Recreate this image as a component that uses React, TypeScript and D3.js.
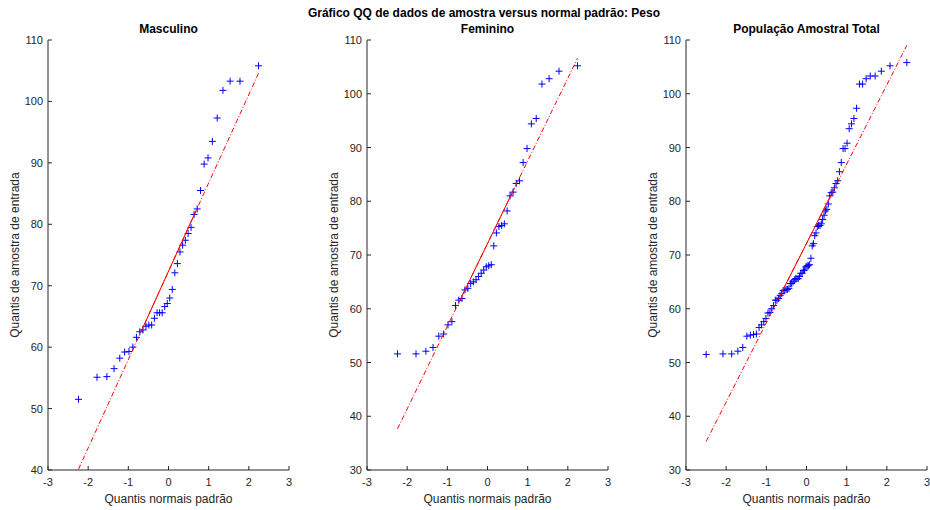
import React from "react";
import * as d3 from "d3";

// ---------- data ----------
const panelTitles = ["Masculino", "Feminino", "População Amostral Total"];
const mainTitle = "Gráfico QQ de dados de amostra versus normal padrão: Peso";
const xLabel = "Quantis normais padrão";
const yLabel = "Quantis de amostra de entrada";

const xTicks = [-3, -2, -1, 0, 1, 2, 3];
const yTicksMale = [40, 50, 60, 70, 80, 90, 100, 110];
const yTicksOther = [30, 40, 50, 60, 70, 80, 90, 100, 110];

// theoretical standard-normal quantiles on the x axis (n = 40 and n = 80)
const quantis40 = [
  -2.241, -1.78, -1.534, -1.356, -1.213, -1.092, -0.984, -0.887, -0.798, -0.714,
  -0.636, -0.561, -0.489, -0.419, -0.352, -0.285, -0.221, -0.157, -0.094, -0.031,
  0.031, 0.094, 0.157, 0.221, 0.285, 0.352, 0.419, 0.489, 0.561, 0.636,
  0.714, 0.798, 0.887, 0.984, 1.092, 1.213, 1.356, 1.534, 1.78, 2.241,
];
const quantis80 = [
  -2.498, -2.08, -1.863, -1.709, -1.587, -1.485, -1.397, -1.318, -1.247, -1.181,
  -1.12, -1.063, -1.01, -0.959, -0.911, -0.865, -0.82, -0.776, -0.735, -0.694,
  -0.655, -0.616, -0.579, -0.543, -0.507, -0.471, -0.437, -0.402, -0.369, -0.335,
  -0.302, -0.269, -0.237, -0.205, -0.173, -0.142, -0.11, -0.078, -0.047, -0.016,
  0.016, 0.047, 0.078, 0.11, 0.142, 0.173, 0.205, 0.237, 0.269, 0.302,
  0.335, 0.369, 0.402, 0.437, 0.471, 0.507, 0.543, 0.579, 0.616, 0.655,
  0.694, 0.735, 0.776, 0.82, 0.865, 0.911, 0.959, 1.01, 1.063, 1.12,
  1.181, 1.247, 1.318, 1.397, 1.485, 1.587, 1.709, 1.863, 2.08, 2.498,
];

// sorted sample values (Peso)
const pesoMasculino = [
  51.5, 55.1, 55.2, 56.5, 58.2, 59.2, 59.3, 60.0, 61.6, 62.5,
  62.8, 63.4, 63.6, 63.6, 64.7, 65.6, 65.6, 65.6, 66.6, 67.1,
  68.0, 69.4, 72.1, 73.6, 75.5, 76.6, 77.4, 78.5, 79.5, 81.6,
  82.5, 85.5, 89.8, 90.8, 93.5, 97.3, 101.8, 103.3, 103.3, 105.8,
];
const pesoFeminino = [
  51.6, 51.6, 52.1, 52.8, 54.9, 55.3, 57.0, 57.6, 60.6, 61.6,
  61.9, 63.5, 63.8, 64.7, 65.0, 65.4, 66.0, 66.6, 67.2, 67.8,
  68.0, 68.2, 71.7, 74.1, 75.3, 75.5, 75.8, 78.2, 81.0, 81.7,
  83.3, 83.8, 87.2, 89.8, 94.4, 95.4, 101.8, 102.8, 104.2, 105.2,
];
const pesoTotal = [
  51.5, 51.6, 51.6, 52.1, 52.8, 54.9, 55.1, 55.2, 55.3, 56.5,
  57.0, 57.6, 58.2, 59.2, 59.3, 60.0, 60.6, 61.6, 61.6, 61.9,
  62.5, 62.8, 63.4, 63.5, 63.6, 63.6, 63.8, 64.7, 64.7, 65.0,
  65.4, 65.6, 65.6, 65.6, 66.0, 66.6, 66.6, 67.1, 67.2, 67.8,
  68.0, 68.0, 68.2, 69.4, 71.7, 72.1, 73.6, 74.1, 75.3, 75.5,
  75.5, 75.8, 76.6, 77.4, 78.2, 78.5, 79.5, 81.0, 81.6, 81.7,
  82.5, 83.3, 83.8, 85.5, 87.2, 89.8, 89.8, 90.8, 93.5, 94.4,
  95.4, 97.3, 101.8, 101.8, 102.8, 103.3, 103.3, 104.2, 105.2, 105.8,
];

const panelX = [quantis40, quantis40, quantis80];
const panelY = [pesoMasculino, pesoFeminino, pesoTotal];
const panelYDomain: [number, number][] = [[40, 110], [30, 110], [30, 110]];
const panelYTicks = [yTicksMale, yTicksOther, yTicksOther];

// ---------- layout ----------
const W = 930;
const H = 510;
const panelLefts = [48, 367, 686];
const panelW = 241;
const top = 40;
const bottom = 470;
const axisColor = "#262626";
const font = "'Liberation Sans', Arial, Helvetica, sans-serif";
const tickLen = 4;
const QX = 0.6745;

function Panel({ idx }: { idx: number }) {
  const left = panelLefts[idx];
  const xs = panelX[idx];
  const ys = panelY[idx];
  const x = d3.scaleLinear().domain([-3, 3]).range([left, left + panelW]);
  const y = d3.scaleLinear().domain(panelYDomain[idx]).range([bottom, top]);
  const n = ys.length;
  const q1y = (ys[n / 4 - 1] + ys[n / 4]) / 2;
  const q3y = (ys[(3 * n) / 4 - 1] + ys[(3 * n) / 4]) / 2;
  const slope = (q3y - q1y) / (2 * QX);
  const mid = (q1y + q3y) / 2;
  const fy = (v: number) => mid + slope * v;
  const xmin = xs[0];
  const xmax = xs[n - 1];
  const lineGen = d3
    .line<[number, number]>()
    .x((d) => x(d[0]))
    .y((d) => y(d[1]));
  const fullLine = lineGen([
    [xmin, fy(xmin)],
    [xmax, fy(xmax)],
  ]);
  const quartLine = lineGen([
    [-QX, q1y],
    [QX, q3y],
  ]);
  const ms = 3.5;
  return (
    <g>
      {/* axes */}
      <line x1={left} x2={left} y1={top} y2={bottom} stroke={axisColor} strokeWidth={1} />
      <line x1={left} x2={left + panelW} y1={bottom} y2={bottom} stroke={axisColor} strokeWidth={1} />
      {xTicks.map((t) => (
        <g key={"xt" + t}>
          <line x1={x(t)} x2={x(t)} y1={bottom} y2={bottom - tickLen} stroke={axisColor} strokeWidth={1} />
          <text x={x(t)} y={486} textAnchor="middle" fontSize={11} fill={axisColor} fontFamily={font}>
            {t}
          </text>
        </g>
      ))}
      {panelYTicks[idx].map((t) => (
        <g key={"yt" + t}>
          <line x1={left} x2={left + tickLen} y1={y(t)} y2={y(t)} stroke={axisColor} strokeWidth={1} />
          <text x={left - 5} y={y(t) + 4} textAnchor="end" fontSize={11} fill={axisColor} fontFamily={font}>
            {t}
          </text>
        </g>
      ))}
      {/* markers */}
      {xs.map((xv, i) => {
        const cx = x(xv);
        const cy = y(ys[i]);
        return (
          <path
            key={"m" + i}
            d={`M${cx - ms},${cy}H${cx + ms}M${cx},${cy - ms}V${cy + ms}`}
            stroke="#0000ff"
            strokeWidth={1}
            fill="none"
          />
        );
      })}
      {/* reference lines */}
      <path d={fullLine || ""} stroke="#ff0000" strokeWidth={1} fill="none" strokeDasharray="5,2,1,2" />
      <path d={quartLine || ""} stroke="#ff0000" strokeWidth={1} fill="none" />
      {/* labels */}
      <text
        x={left + panelW / 2}
        y={33}
        textAnchor="middle"
        fontSize={12}
        fontWeight="bold"
        fill="#000"
        fontFamily={font}
      >
        {panelTitles[idx]}
      </text>
      <text
        x={left + panelW / 2}
        y={503}
        textAnchor="middle"
        fontSize={12}
        fill={axisColor}
        fontFamily={font}
      >
        {xLabel}
      </text>
      <text
        transform={`translate(${left - 29},${(top + bottom) / 2}) rotate(-90)`}
        textAnchor="middle"
        fontSize={12}
        fill={axisColor}
        fontFamily={font}
      >
        {yLabel}
      </text>
    </g>
  );
}

export default function App() {
  return (
    <svg
      width={W}
      height={H}
      viewBox={`0 0 ${W} ${H}`}
      style={{ position: "absolute", left: 0, top: 0, background: "#fff" }}
    >
      <rect x={0} y={0} width={W} height={H} fill="#fff" />
      <text x={484} y={17} textAnchor="middle" fontSize={12} fontWeight="bold" fill="#000" fontFamily={font}>
        {mainTitle}
      </text>
      {[0, 1, 2].map((i) => (
        <Panel key={i} idx={i} />
      ))}
    </svg>
  );
}
